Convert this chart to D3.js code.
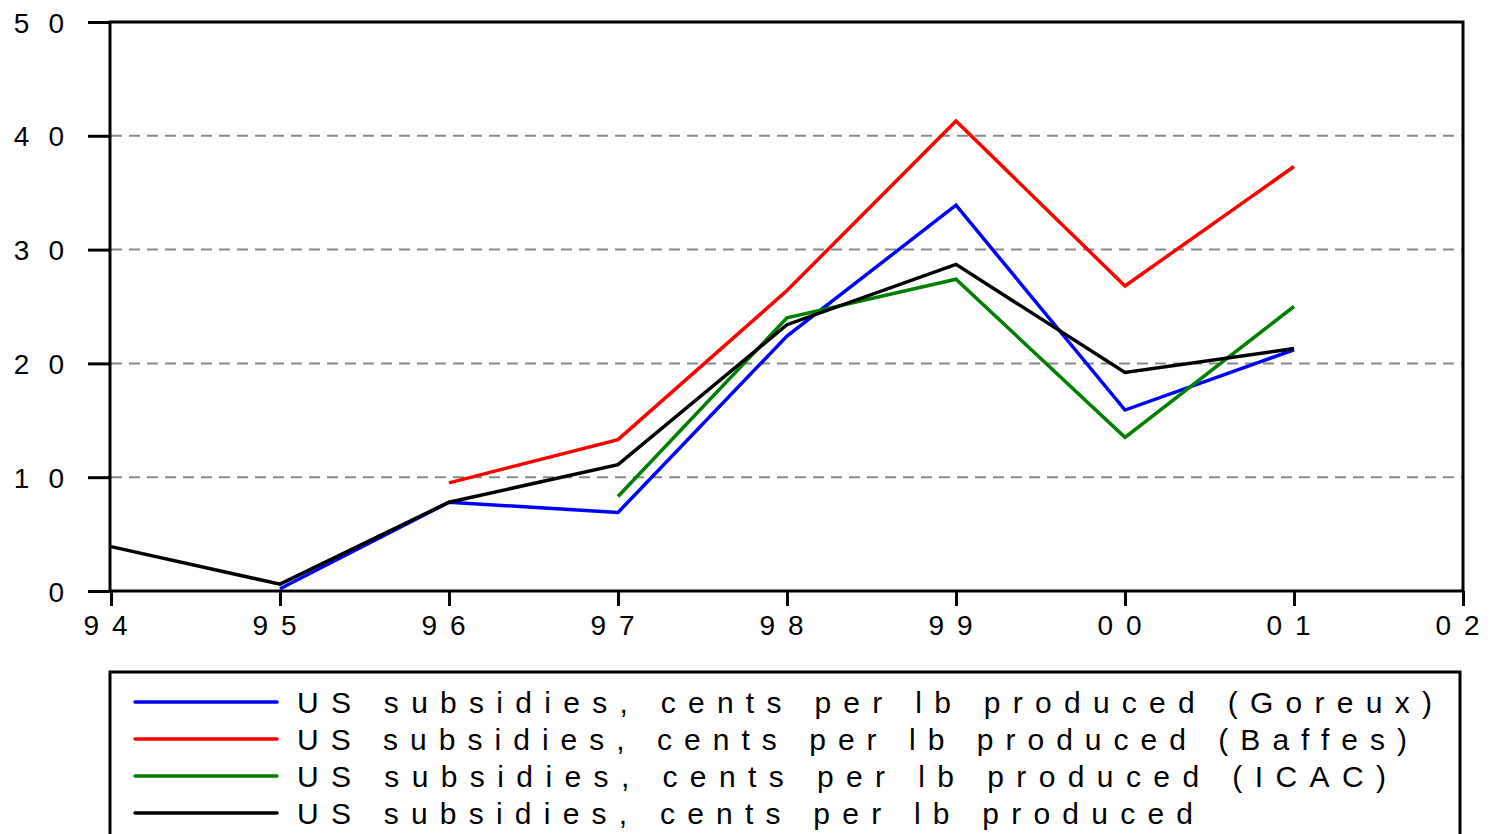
<!DOCTYPE html>
<html>
<head>
<meta charset="utf-8">
<script src="https://cdn.jsdelivr.net/npm/d3@7"></script>
<style>
  html, body { margin: 0; padding: 0; background: #fff; overflow: hidden; }
  svg { display: block; font-family: "Liberation Sans", Arial, sans-serif; }
</style>
</head>
<body>
<svg id="chart" width="1490" height="834"></svg>
<script>
// Years on the x axis and their two-digit tick labels
const years = [1994, 1995, 1996, 1997, 1998, 1999, 2000, 2001, 2002];
const yearLabels = ["94", "95", "96", "97", "98", "99", "00", "01", "02"];
const yTicks = [0, 10, 20, 30, 40, 50];

// US subsidies, cents per lb produced (null = no estimate)
const goreux = [null, 0.2, 7.8, 6.9, 22.4, 33.9, 15.9, 21.2, null];
const baffes = [null, null, 9.5, 13.3, 26.4, 41.3, 26.8, 37.3, null];
const icac   = [null, null, null, 8.3, 24.0, 27.4, 13.5, 25.0, null];
const combined = [3.9, 0.6, 7.8, 11.1, 23.4, 28.7, 19.2, 21.3, null];

const seriesNames = [
  "US subsidies, cents per lb produced (Goreux)",
  "US subsidies, cents per lb produced (Baffes)",
  "US subsidies, cents per lb produced (ICAC)",
  "US subsidies, cents per lb produced"
];
const seriesColors = ["#0000ff", "#ff0000", "#008000", "#000000"];
const seriesValues = [goreux, baffes, icac, combined];

const svg = d3.select("#chart");
const plotLeft = 111, plotRight = 1463, plotTop = 22, plotBottom = 591;

const x = d3.scaleLinear().domain([1994, 2002]).range([plotLeft, plotRight]);
const y = d3.scaleLinear().domain([0, 50]).range([plotBottom, plotTop]);

// splits a label into its characters, spread apart by a fixed gap
function spreadDigits(sel, label, gap) {
  sel.text(null);
  label.split("").forEach((ch, k) => {
    sel.append("tspan").attr("dx", k === 0 ? 0 : gap).text(ch);
  });
}

// dashed grid
svg.append("g").selectAll("line")
  .data(yTicks.filter(t => t > 0 && t < 50))
  .join("line")
  .attr("x1", plotLeft).attr("x2", plotRight)
  .attr("y1", d => y(d)).attr("y2", d => y(d))
  .attr("stroke", "#888").attr("stroke-width", 2)
  .attr("stroke-dasharray", "11,7");

// series lines
const line = d3.line()
  .defined(d => d.v != null)
  .x(d => x(d.year))
  .y(d => y(d.v));

seriesValues.forEach((vals, i) => {
  svg.append("path")
    .datum(years.map((yr, j) => ({ year: yr, v: vals[j] })))
    .attr("fill", "none")
    .attr("stroke", seriesColors[i])
    .attr("stroke-width", 3.5)
    .attr("stroke-linejoin", "miter")
    .attr("d", line);
});

// frame
svg.append("rect")
  .attr("x", plotLeft - 1).attr("y", plotTop)
  .attr("width", plotRight - plotLeft + 1).attr("height", plotBottom - plotTop)
  .attr("fill", "none").attr("stroke", "#000").attr("stroke-width", 3);

// y axis
const yAxis = d3.axisLeft(y).tickValues(yTicks).tickSize(22)
  .tickFormat(d => String(d));
const gy = svg.append("g").attr("transform", `translate(${plotLeft - 1},0)`).call(yAxis);
gy.select(".domain").remove();
gy.selectAll(".tick line").attr("stroke", "#000").attr("stroke-width", 3);
gy.selectAll(".tick text")
  .attr("font-size", 28).attr("fill", "#000")
  .attr("font-family", "Liberation Sans, Arial, sans-serif")
  .attr("text-anchor", "end")
  .attr("x", -46)
  .attr("dy", "0.36em")
  .each(function (d) { spreadDigits(d3.select(this), String(d), 19); });

// x axis
const xAxis = d3.axisBottom(x).tickValues(years).tickSize(15).tickPadding(9)
  .tickFormat((d, i) => yearLabels[i]);
const gx = svg.append("g").attr("transform", `translate(0,${plotBottom})`).call(xAxis);
gx.select(".domain").remove();
gx.selectAll(".tick line").attr("stroke", "#000").attr("stroke-width", 3);
gx.selectAll(".tick text")
  .attr("font-size", 28).attr("fill", "#000")
  .attr("font-family", "Liberation Sans, Arial, sans-serif")
  .attr("x", -6)
  .each(function (d, i) { spreadDigits(d3.select(this), yearLabels[i], 13); });

// legend
const legend = svg.append("g");
legend.append("rect")
  .attr("x", 110).attr("y", 672).attr("width", 1350).attr("height", 200)
  .attr("fill", "none").attr("stroke", "#000").attr("stroke-width", 3);

const rowY = [702, 739, 776, 813];
const textEnds = [1432, 1407, 1386, 1193];
seriesNames.forEach((name, i) => {
  legend.append("line")
    .attr("x1", 135).attr("x2", 277)
    .attr("y1", rowY[i]).attr("y2", rowY[i])
    .attr("stroke", seriesColors[i]).attr("stroke-width", 3.5)
    .attr("stroke-linecap", "round");
  legend.append("text")
    .attr("x", 297).attr("y", rowY[i])
    .attr("dy", "0.36em")
    .attr("font-size", 30)
    .attr("fill", "#000")
    .attr("textLength", textEnds[i] - 297)
    .attr("lengthAdjust", "spacing")
    .text(name);
});
</script>
</body>
</html>
